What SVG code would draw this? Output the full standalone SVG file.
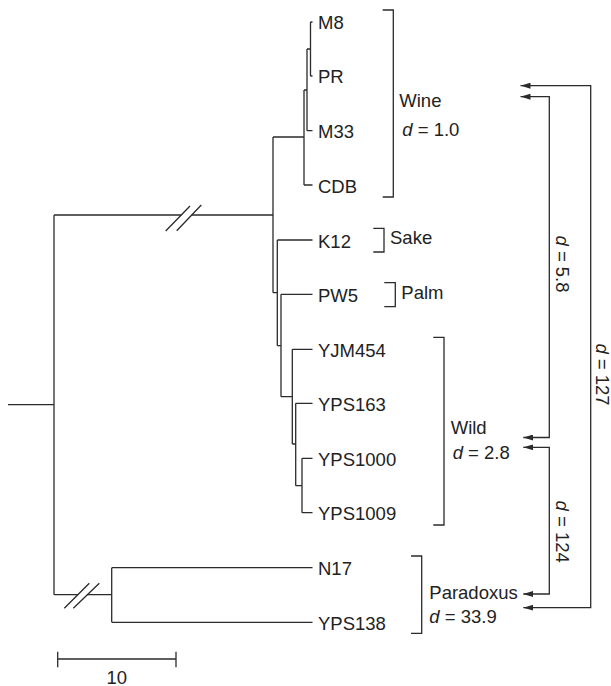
<svg xmlns="http://www.w3.org/2000/svg" width="611" height="686" viewBox="0 0 611 686">
<style>
.ln{fill:none;stroke:#2b2b2b;stroke-width:1.3;stroke-linecap:butt}
.t{font-family:"Liberation Sans",Arial,sans-serif;font-size:18.5px;fill:#222}
.i{font-style:italic}
</style>
<defs>
<marker id="ah" viewBox="0 0 10 6" refX="10" refY="3" markerWidth="10" markerHeight="6" markerUnits="userSpaceOnUse" orient="auto-start-reverse">
<path d="M0,0 L10,3 L0,6 Z" fill="#2b2b2b"/>
</marker>
</defs>
<rect width="611" height="686" fill="#fff"/>
<g id="connectors" class="ln">
<path d="M8 404.7 H54 M54 215 V594.7"/>
<path d="M54 215 H181.3 M191.7 215 H273"/>
<path d="M165.7 231 L190 206 M176.7 230.7 L201.3 205"/>
<path d="M54 594.7 H77.9 M86.9 594.7 H111.7"/>
<path d="M64.3 608.3 L89.3 583.3 M73.3 608.3 L99.3 583.3"/>
<path d="M273 137 V292.7 M273 137 H304"/>
<path d="M304 90 V185 M304 90 H307 M304 185 H312.5"/>
<path d="M307 49 V130.7 M307 49 H310.5 M307 130.7 H312.5"/>
<path d="M310.5 22 V76 M310.5 22 H312.5 M310.5 76 H312.5"/>
<path d="M273 292.7 H277.3 M277.3 240 V345.7 M277.3 240 H312.5"/>
<path d="M277.3 345.7 H281 M281 294.3 V396.7 M281 294.3 H312.5"/>
<path d="M281 396.7 H292.3 M292.3 349.3 V444 M292.3 349.3 H312.5"/>
<path d="M292.3 444 H295.7 M295.7 403.3 V485.7 M295.7 403.3 H312.5"/>
<path d="M295.7 485.7 H302 M302 458.3 V512.7 M302 458.3 H312.5 M302 512.7 H312.5"/>
<path d="M111.7 567.7 V622.3 M111.7 567.7 H312.5 M111.7 622.3 H312.5"/>
<path d="M523.3 607.7 H590.7 V85.7 H520.5" marker-start="url(#ah)" marker-end="url(#ah)"/>
<path d="M520.5 96.7 H549.3 V437.5 H523.3" marker-start="url(#ah)" marker-end="url(#ah)"/>
<path d="M523.3 447.3 H549.3 V594 H523.3" marker-start="url(#ah)" marker-end="url(#ah)"/>
</g>
<g id="leaf-M8"><text class="t" x="318" y="29">M8</text></g>
<g id="leaf-PR"><text class="t" x="318" y="83">PR</text></g>
<g id="leaf-M33"><text class="t" x="318" y="138">M33</text></g>
<g id="leaf-CDB"><text class="t" x="318" y="192.5">CDB</text></g>
<g id="leaf-K12"><text class="t" x="318" y="247.5">K12</text></g>
<g id="leaf-PW5"><text class="t" x="318" y="301.5">PW5</text></g>
<g id="leaf-YJM454"><text class="t" x="318" y="356.5">YJM454</text></g>
<g id="leaf-YPS163"><text class="t" x="318" y="410.5">YPS163</text></g>
<g id="leaf-YPS1000"><text class="t" x="318" y="465.5">YPS1000</text></g>
<g id="leaf-YPS1009"><text class="t" x="318" y="520">YPS1009</text></g>
<g id="leaf-N17"><text class="t" x="318" y="575">N17</text></g>
<g id="leaf-YPS138"><text class="t" x="318" y="629.5">YPS138</text></g>
<g id="group-wine">
<path class="ln" d="M382.7 10 H393.3 V197 H382.7"/>
<text class="t" x="399.3" y="106.7">Wine</text>
<text class="t" x="402.3" y="136"><tspan class="i">d</tspan> = 1.0</text>
</g>
<g id="group-sake">
<path class="ln" d="M373.3 228.3 H384 V252 H373.3"/>
<text class="t" x="390" y="244">Sake</text>
</g>
<g id="group-palm">
<path class="ln" d="M384.3 282.7 H395.3 V306.7 H384.3"/>
<text class="t" x="401.3" y="299">Palm</text>
</g>
<g id="group-wild">
<path class="ln" d="M433.3 337.3 H444 V525 H433.3"/>
<text class="t" x="450.7" y="434">Wild</text>
<text class="t" x="452.7" y="459.3"><tspan class="i">d</tspan> = 2.8</text>
</g>
<g id="group-paradoxus">
<path class="ln" d="M411 556 H421.7 V633.3 H411"/>
<text class="t" x="429.3" y="599.3">Paradoxus</text>
<text class="t" x="429.3" y="623.3"><tspan class="i">d</tspan> = 33.9</text>
</g>
<g id="distance-labels">
<text class="t" text-anchor="middle" transform="translate(555.5,264) rotate(90)"><tspan class="i">d</tspan> = 5.8</text>
<text class="t" text-anchor="middle" transform="translate(595.5,374.5) rotate(90)"><tspan class="i">d</tspan> = 127</text>
<text class="t" text-anchor="middle" transform="translate(555.5,531.7) rotate(90)"><tspan class="i">d</tspan> = 124</text>
</g>
<g id="scale-bar">
<path class="ln" d="M57.7 659 H176 M57.7 651.7 V667.3 M176 651.7 V667.3"/>
<text class="t" x="116.7" y="683.5" text-anchor="middle">10</text>
</g>
</svg>
